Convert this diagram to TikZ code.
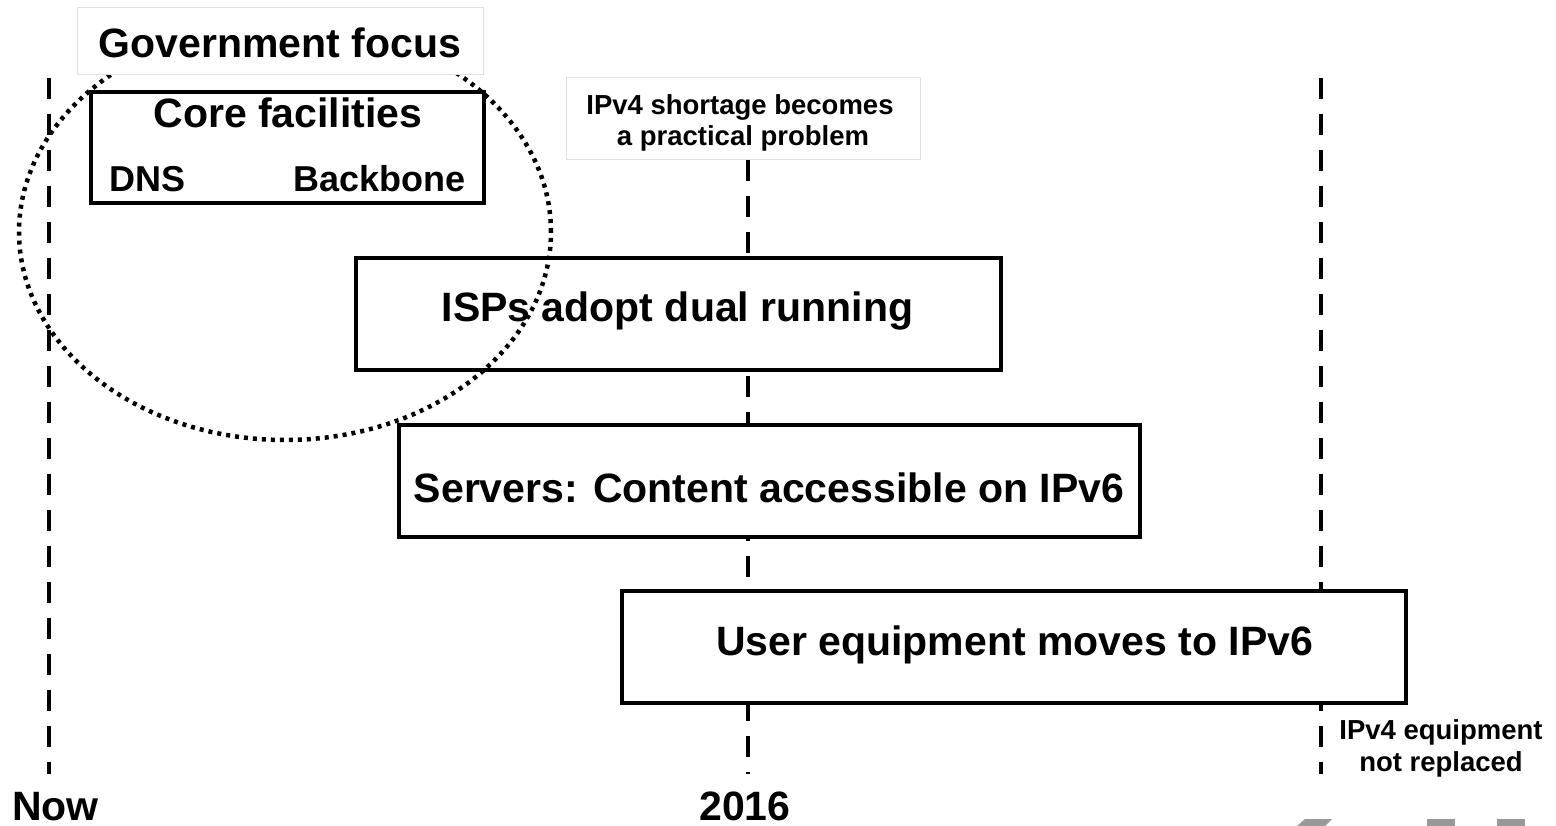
\documentclass[tikz,border=0pt]{standalone}
\usepackage{fontspec}
\setmainfont{Liberation Sans}
\begin{document}
\begin{tikzpicture}[x=1pt,y=-1pt,
  bigtxt/.style={font=\fontsize{41}{47}\selectfont\bfseries, inner sep=0pt},
  midtxt/.style={font=\fontsize{36}{42}\selectfont\bfseries, inner sep=0pt},
  smalltxt/.style={font=\fontsize{27.5}{33}\selectfont\bfseries, inner sep=0pt},
  phasebox/.style={draw=black, fill=white, line width=3.5pt, inner sep=0pt},
  labelbox/.style={draw=black!12, fill=white, line width=1pt, inner sep=0pt},
  timeline/.style={line width=3.5pt, dash pattern=on 21pt off 15pt},
  focus/.style={line width=4.5pt, dash pattern=on 4pt off 5pt}
]
\useasboundingbox (0,0) rectangle (1556,826);
\fill[white] (0,0) rectangle (1556,826);

% time lines
\coordinate (nowtop) at (49,78);
\coordinate (nowbot) at (49,774);
\coordinate (ytop) at (748,160);
\coordinate (ybot) at (748,774);
\coordinate (endtop) at (1321,78);
\coordinate (endbot) at (1321,774);
\draw[timeline] (nowtop) -- (nowbot);
\draw[timeline] (ytop) -- (ybot);
\draw[timeline] (endtop) -- (endbot);

% phase boxes below the focus ellipse
\node[phasebox, minimum width=645pt, minimum height=112pt] (isp) at (678.5,314) {};
\node[phasebox, minimum width=741pt, minimum height=112pt] (srv) at (769.5,481) {};
\node[phasebox, minimum width=784pt, minimum height=112pt] (usr) at (1014,647) {};
\node[bigtxt, anchor=base] (ispt) at (677.5,322) {ISPs adopt dual running};
\node[bigtxt, anchor=base] (srvt) at (769,502) {Servers: Content accessible on IPv6};
\node[bigtxt, anchor=base] (usrt) at (1014.5,655) {User equipment moves to IPv6};

% government focus ellipse
\draw[focus] (285,232) ellipse [x radius=266pt, y radius=208pt];

% core facilities box on top of the ellipse
\node[phasebox, minimum width=393pt, minimum height=111pt] (core) at (287.5,147.5) {};
\node[bigtxt, anchor=base] (coret) at (288,128) {Core facilities};
\node[midtxt, anchor=base west] (dns) at (109,192) {DNS};
\node[midtxt, anchor=base east] (bb) at (466,192) {Backbone};

% label boxes
\node[labelbox, minimum width=406pt, minimum height=67pt] (govbox) at (280,41.5) {};
\node[bigtxt, anchor=base] (gov) at (280,58) {Government focus};
\node[labelbox, minimum width=354pt, minimum height=82pt] (shbox) at (743,119) {};
\node[smalltxt, anchor=base] (sh1) at (740,115) {IPv4 shortage becomes};
\node[smalltxt, anchor=base] (sh2) at (743,146) {a practical problem};

\node[smalltxt, anchor=base] (eq1) at (1441,739) {IPv4 equipment};
\node[smalltxt, anchor=base] (eq2) at (1441,771) {not replaced};

\node[bigtxt, anchor=base west] (now) at (12,820) {Now};
\node[bigtxt, anchor=base] (yr) at (745,820) {2016};

% cut-off grey logo fragments
\fill[black!40] (1297,826) -- (1305,819) -- (1332,819) -- (1325,826) -- cycle;
\fill[black!40] (1427,819) rectangle (1455,826);
\fill[black!40] (1497,819) rectangle (1525,826);
\end{tikzpicture}
\end{document}
